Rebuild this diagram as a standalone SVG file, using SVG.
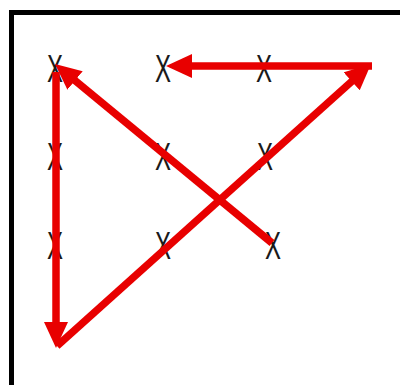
<svg xmlns="http://www.w3.org/2000/svg" width="400" height="385" viewBox="0 0 400 385">
  <style>
    .x { font-family: "Liberation Sans", Arial, sans-serif; font-size: 38px; fill: #1a1a1a; text-anchor: middle; }
    .arr { stroke: #e80000; stroke-width: 7.5; fill: none; marker-end: url(#head); }
  </style>
  <defs>
    <marker id="head" viewBox="0 0 26 24" markerWidth="26" markerHeight="24" refX="16" refY="12" orient="auto" markerUnits="userSpaceOnUse">
      <path d="M0,0 L26,12 L0,24 z" fill="#e80000"/>
    </marker>
  </defs>
  <rect width="400" height="385" fill="#ffffff"/>
  <g id="frame">
    <rect x="9" y="10" width="391" height="5" fill="#000"/>
    <rect x="9" y="10" width="5" height="375" fill="#000"/>
  </g>
  <g id="marks">
    <g id="x11"><text class="x" x="55" y="82" textLength="16" lengthAdjust="spacingAndGlyphs">X</text></g>
    <g id="x12"><text class="x" x="163" y="82" textLength="16" lengthAdjust="spacingAndGlyphs">X</text></g>
    <g id="x13"><text class="x" x="264" y="82" textLength="16" lengthAdjust="spacingAndGlyphs">X</text></g>
    <g id="x21"><text class="x" x="55" y="170" textLength="16" lengthAdjust="spacingAndGlyphs">X</text></g>
    <g id="x22"><text class="x" x="163" y="170" textLength="16" lengthAdjust="spacingAndGlyphs">X</text></g>
    <g id="x23"><text class="x" x="265" y="170" textLength="16" lengthAdjust="spacingAndGlyphs">X</text></g>
    <g id="x31"><text class="x" x="55" y="259" textLength="16" lengthAdjust="spacingAndGlyphs">X</text></g>
    <g id="x32"><text class="x" x="163" y="259" textLength="16" lengthAdjust="spacingAndGlyphs">X</text></g>
    <g id="x33"><text class="x" x="273" y="259" textLength="16" lengthAdjust="spacingAndGlyphs">X</text></g>
  </g>
  <g id="connectors">
    <path class="arr" d="M372,66 L176,66"/>
    <path class="arr" d="M57,346 L363.6,70.7"/>
    <path class="arr" d="M272,243 L62.7,70.4"/>
    <path class="arr" d="M56,72 L56,338"/>
  </g>
</svg>
